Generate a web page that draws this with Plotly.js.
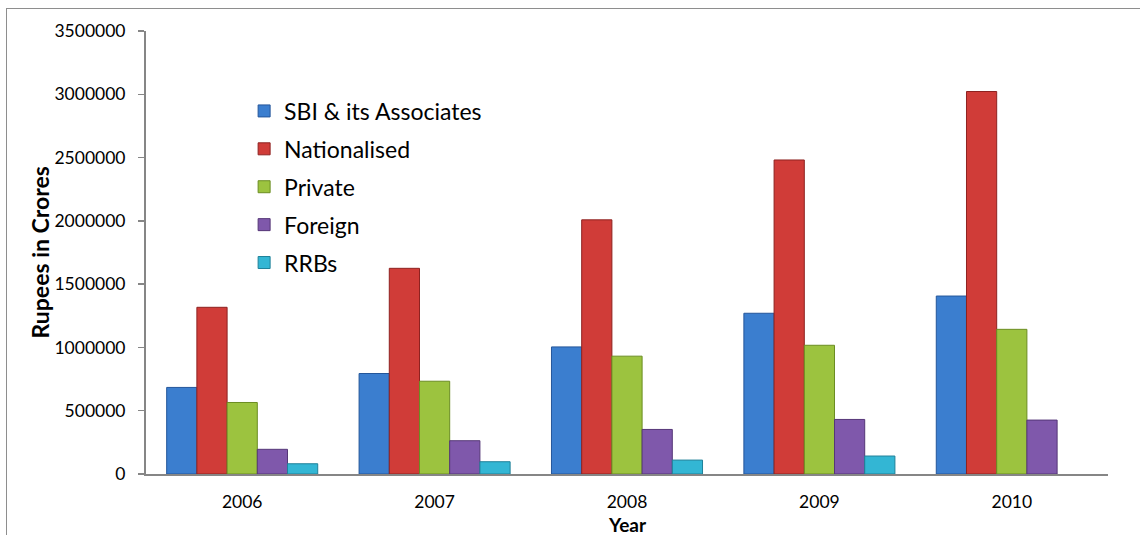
<!DOCTYPE html>
<html>
<head>
<meta charset="utf-8">
<script src="https://cdn.plot.ly/plotly-3.0.1.min.js"></script>
<style>
  html, body { margin: 0; padding: 0; background: #ffffff; }
  #wrap { position: relative; width: 1140px; height: 535px; overflow: hidden; }
  #chart { width: 1140px; height: 535px; }
  /* frame of the chart area (top and left edges) */
  #frame { position: absolute; left: 6px; top: 8px; right: -4px; bottom: -4px;
           border-left: 1.5px solid #8e8e8e; border-top: 1.5px solid #8e8e8e;
           pointer-events: none; }
</style>
</head>
<body>
<div id="wrap">
  <div id="chart"></div>
  <div id="frame"></div>
</div>
<script>
// Deposits by bank group, rupees in crores
const years = ['2006', '2007', '2008', '2009', '2010'];
const sbiAssociates = [684000, 794000, 1004000, 1270000, 1406000];
const nationalised = [1317000, 1625000, 2008000, 2481000, 3022000];
const privateBanks = [565000, 733000, 931000, 1017000, 1143000];
const foreignBanks = [195000, 263000, 352000, 431000, 426000];
const rrbs = [81000, 97000, 110000, 142000, null];

const seriesNames = ['SBI & its Associates', 'Nationalised', 'Private', 'Foreign', 'RRBs'];
const seriesValues = [sbiAssociates, nationalised, privateBanks, foreignBanks, rrbs];
const fills = ['#3b7ecf', '#d03c38', '#9cc33f', '#7f58ab', '#33b6d4'];
const edges = ['#24569a', '#8e2220', '#6b8d22', '#553677', '#1f8099'];

const traces = seriesNames.map((name, i) => ({
  type: 'bar',
  name: name,
  x: years,
  y: seriesValues[i],
  legendgroup: 'g' + i,
  marker: { color: fills[i], line: { color: edges[i], width: 1 } },
  hoverinfo: 'x+y+name'
}));

const font = 'Lato, "Open Sans", sans-serif';

const layout = {
  width: 1140,
  height: 535,
  margin: { l: 146, r: 32, t: 31, b: 61 },
  paper_bgcolor: '#ffffff',
  plot_bgcolor: '#ffffff',
  font: { family: font, size: 17.5, color: '#000000' },
  barmode: 'group',
  bargap: 0.215,
  bargroupgap: 0,
  showlegend: true,
  legend: {
    x: 0.102, y: 0.868, xanchor: 'left', yanchor: 'top',
    bgcolor: 'rgba(0,0,0,0)',
    font: { family: font, size: 23, color: '#000000' },
    traceorder: 'grouped',
    tracegroupgap: 5
  },
  xaxis: {
    type: 'category',
    showline: true, linecolor: '#868686', linewidth: 2,
    ticks: '', showgrid: false, zeroline: false,
    tickfont: { family: font, size: 17.5, color: '#000000' },
    ticklabelstandoff: 11
  },
  yaxis: {
    range: [0, 3500000],
    tickvals: [0, 500000, 1000000, 1500000, 2000000, 2500000, 3000000, 3500000],
    ticktext: ['0', '500000', '1000000', '1500000', '2000000', '2500000', '3000000', '3500000'],
    showline: true, linecolor: '#868686', linewidth: 2,
    ticks: 'outside', ticklen: 6, tickcolor: '#868686', tickwidth: 1.5,
    showgrid: false, zeroline: false,
    tickfont: { family: font, size: 17.5, color: '#000000' },
    ticklabelstandoff: 9
  },
  annotations: [
    { // x axis title
      text: '<b>Year</b>', xref: 'paper', yref: 'paper', x: 0.5, y: 0,
      xanchor: 'center', yanchor: 'middle', yshift: -50, showarrow: false,
      font: { family: font, size: 19, color: '#000000' }
    },
    { // y axis title
      text: '<b>Rupees in Crores</b>', xref: 'paper', yref: 'paper', x: 0, y: 0.5,
      xanchor: 'center', yanchor: 'middle', xshift: -107, textangle: -90, showarrow: false,
      font: { family: font, size: 23, color: '#000000' }
    }
  ]
};

Plotly.newPlot('chart', traces, layout, { staticPlot: true, displayModeBar: false });
</script>
</body>
</html>
